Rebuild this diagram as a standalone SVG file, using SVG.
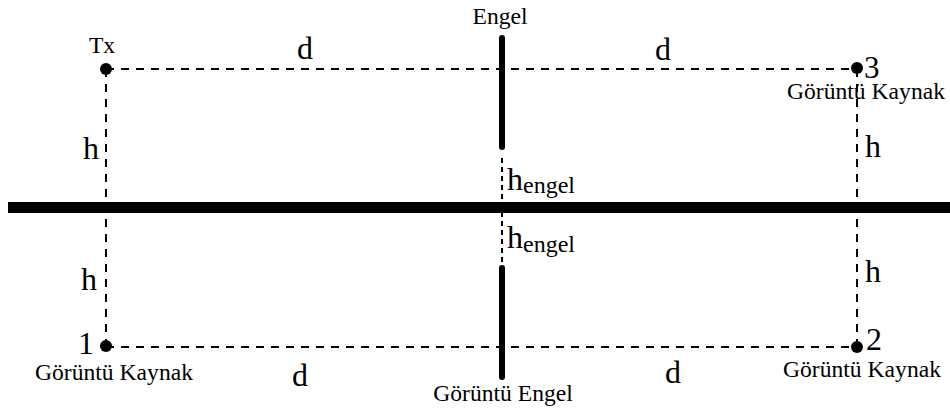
<svg xmlns="http://www.w3.org/2000/svg" width="950" height="413" viewBox="0 0 950 413">
<style>
text{font-family:"Liberation Serif","DejaVu Serif",serif;fill:#000}
.sm{font-size:23.6px}
.lg{font-size:32px}
.sub{font-size:24px}
.dash{stroke:#000;stroke-width:2;stroke-dasharray:8 7;fill:none}
.dash2{stroke:#000;stroke-width:2;stroke-dasharray:5 4;fill:none}
.bar{stroke:#000;stroke-width:6;stroke-linecap:round;fill:none}
.dot{fill:#000}
</style>
<rect width="950" height="413" fill="#fff"/>
<g id="ground">
<rect x="8" y="202" width="942" height="11" fill="#000"/>
</g>
<g id="connectors">
<line class="dash" x1="106" y1="69" x2="857" y2="69"/>
<line class="dash" x1="106" y1="347" x2="857" y2="347"/>
<line class="dash" x1="106" y1="69" x2="106" y2="347"/>
<line class="dash" x1="857" y1="69" x2="857" y2="347"/>
<line class="dash2" x1="502" y1="158" x2="502" y2="263"/>
</g>
<g id="engel">
<line class="bar" x1="502" y1="38" x2="502" y2="147"/>
<text class="sm" x="500" y="24" text-anchor="middle">Engel</text>
</g>
<g id="goruntu-engel">
<line class="bar" x1="502" y1="268" x2="502" y2="377"/>
<text class="sm" x="503" y="401" text-anchor="middle">Görüntü Engel</text>
</g>
<g id="tx">
<circle class="dot" cx="106" cy="69" r="6"/>
<text class="sm" x="102" y="53" text-anchor="middle">Tx</text>
</g>
<g id="node3">
<circle class="dot" cx="857" cy="68" r="6"/>
<text x="864" y="78" font-size="31">3</text>
<text class="sm" x="866" y="99" text-anchor="middle">Görüntü Kaynak</text>
</g>
<g id="node1">
<circle class="dot" cx="106" cy="346" r="6"/>
<text class="lg" x="78" y="354">1</text>
<text class="sm" x="114" y="380" text-anchor="middle">Görüntü Kaynak</text>
</g>
<g id="node2">
<circle class="dot" cx="857" cy="347" r="6"/>
<text class="lg" x="866" y="350">2</text>
<text class="sm" x="862" y="377" text-anchor="middle">Görüntü Kaynak</text>
</g>
<g id="labels">
<text class="lg" x="305" y="59" text-anchor="middle">d</text>
<text class="lg" x="663" y="60" text-anchor="middle">d</text>
<text class="lg" x="300" y="386" text-anchor="middle">d</text>
<text class="lg" x="673" y="383" text-anchor="middle">d</text>
<text class="lg" x="91" y="159" text-anchor="middle">h</text>
<text class="lg" x="89" y="290" text-anchor="middle">h</text>
<text class="lg" x="873" y="157" text-anchor="middle">h</text>
<text class="lg" x="873" y="282" text-anchor="middle">h</text>
<text class="lg" x="507" y="190">h<tspan class="sub" dy="3">engel</tspan></text>
<text class="lg" x="507" y="248">h<tspan class="sub" dy="4">engel</tspan></text>
</g>
</svg>
